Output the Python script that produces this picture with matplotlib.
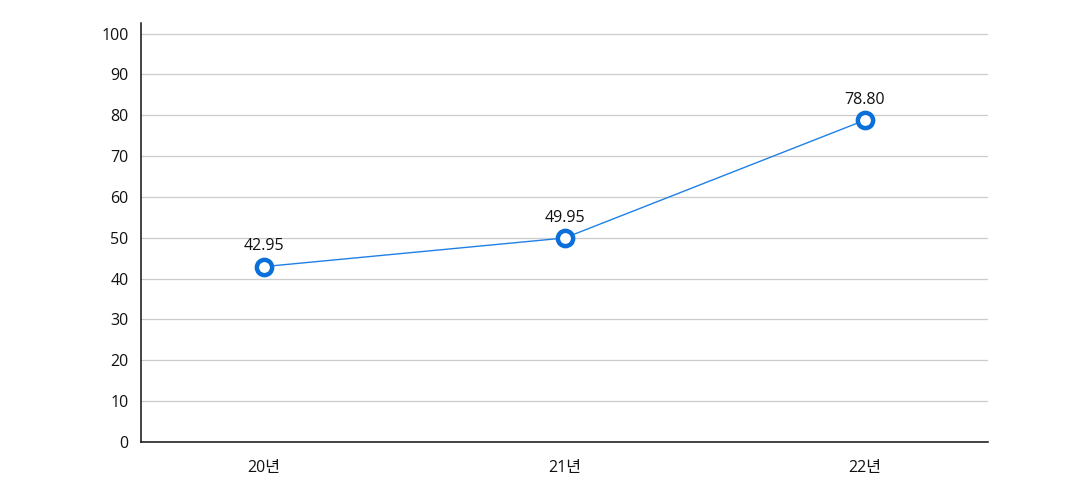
import matplotlib
matplotlib.use("Agg")
import matplotlib.pyplot as plt

plt.rcParams["font.family"] = ["Open Sans", "Noto Sans CJK KR", "DejaVu Sans"]

years = ["20년", "21년", "22년"]
values = [42.95, 49.95, 78.80]
value_labels = ["42.95", "49.95", "78.80"]
y_ticks = [0, 10, 20, 30, 40, 50, 60, 70, 80, 90, 100]

LINE = "#1f80e6"
MARK = "#0b6fd9"

fig = plt.figure(figsize=(10.88, 4.9), dpi=100)
ax = fig.add_axes([141 / 1088, 1 - 442 / 490, 847 / 1088, 419 / 490])

x = list(range(len(years)))
ax.plot(x, values, color=LINE, linewidth=1.0, zorder=3)
ax.plot(x, values, linestyle="none", marker="o", markersize=11,
        markerfacecolor="white", markeredgecolor=MARK, markeredgewidth=3.2,
        zorder=4)
for xi, v, lab in zip(x, values, value_labels):
    ax.annotate(lab, (xi, v), xytext=(0, 9), textcoords="offset points",
                ha="center", va="bottom", fontsize=11.5, color="#111111")

ax.set_xlim(-0.41, 2.41)
ax.set_ylim(0, 102.6)
ax.set_xticks(x)
ax.set_xticklabels(years)
ax.set_yticks(y_ticks)
ax.tick_params(axis="both", length=0, labelsize=11.5, colors="#111111")
ax.tick_params(axis="x", pad=13)
ax.tick_params(axis="y", pad=9)

ax.grid(axis="y", color="#cccccc", linewidth=0.9)
ax.set_axisbelow(True)
for side in ("top", "right"):
    ax.spines[side].set_visible(False)
for side in ("left", "bottom"):
    ax.spines[side].set_color("#111111")
    ax.spines[side].set_linewidth(1.1)

fig.savefig("out.png", dpi=100)
